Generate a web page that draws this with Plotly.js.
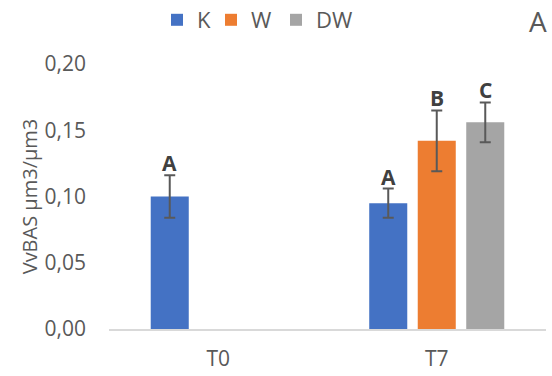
<!DOCTYPE html>
<html>
<head>
<meta charset="utf-8">
<script src="https://cdn.plot.ly/plotly-3.0.1.min.js"></script>
<style>
  html, body { margin: 0; padding: 0; background: #ffffff; }
  #chart { width: 552px; height: 376px; }
</style>
</head>
<body>
<div id="chart"></div>
<script>
// Time points and treatment groups
const timePoints = ["T0", "T7"];
const groups = ["K", "W", "DW"];

// Mean VvBAS per group and time point (null = not measured)
const valuesK  = [0.100, 0.095];
const valuesW  = [null, 0.142];
const valuesDW = [null, 0.156];

// Error bar half-lengths
const errorK  = [0.016, 0.011];
const errorW  = [null, 0.023];
const errorDW = [null, 0.015];

// Significance letters shown above each bar
const lettersK  = ["A", "A"];
const lettersW  = ["", "B"];
const lettersDW = ["", "C"];

const colors = ["#4472c4", "#ed7d31", "#a5a5a5"];
const textColor = "#595959";
const font = "Open Sans, Segoe UI, sans-serif";

const seriesValues = [valuesK, valuesW, valuesDW];
const seriesErrors = [errorK, errorW, errorDW];
const seriesLetters = [lettersK, lettersW, lettersDW];

const width = 552, height = 376;
const margin = { l: 109, r: 6, t: 64, b: 47 };
const bargap = 0.334;
const plotW = width - margin.l - margin.r;
const plotH = height - margin.t - margin.b;
const slotPx = plotW / timePoints.length * (1 - bargap) / groups.length;

// One legend per series so each entry can be placed on its own
const legendIds = ["legend", "legend2", "legend3"];
const legendLeftPx = [157, 211, 276];

const traces = groups.map((name, i) => ({
  type: "bar",
  name: name,
  legend: legendIds[i],
  x: timePoints,
  y: seriesValues[i],
  marker: { color: colors[i] },
  error_y: {
    type: "data",
    array: seriesErrors[i].map(e => e === null ? 0 : e),
    visible: true,
    color: textColor,
    thickness: 2,
    width: 5.5
  },
  hoverinfo: "skip"
}));

// Letter labels sit just above the top of each error bar
const annotations = [];
groups.forEach((g, i) => {
  timePoints.forEach((t, j) => {
    const v = seriesValues[i][j];
    const letter = seriesLetters[i][j];
    if (v === null || !letter) return;
    annotations.push({
      x: t, xref: "x",
      y: v + seriesErrors[i][j], yref: "y",
      xshift: (i - 1) * slotPx,
      yshift: -4,
      yanchor: "bottom",
      text: "<b>" + letter + "</b>",
      showarrow: false,
      font: { family: font, size: 21, color: "#404040" }
    });
  });
});

// Panel label in the top right corner
annotations.push({
  x: (548 - margin.l) / plotW, xref: "paper", xanchor: "right",
  y: 1 + (margin.t - 1) / plotH, yref: "paper", yanchor: "top",
  text: "A", showarrow: false, borderpad: 0,
  font: { family: font, size: 28, color: textColor }
});

const layout = {
  width: width, height: height,
  margin: margin,
  paper_bgcolor: "#ffffff",
  plot_bgcolor: "#ffffff",
  separators: ",.",
  barmode: "group",
  bargap: bargap,
  bargroupgap: 0.216,
  showlegend: true,
  xaxis: {
    type: "category",
    showline: true, linecolor: "#d9d9d9", linewidth: 1.5,
    ticks: "", showgrid: false, zeroline: false,
    ticklabelstandoff: 10,
    tickfont: { family: font, size: 21, color: textColor }
  },
  yaxis: {
    range: [0, 0.2],
    dtick: 0.05, tick0: 0,
    tickformat: ".2f",
    showgrid: false, zeroline: false, showline: false,
    ticks: "",
    ticklabelstandoff: 22,
    tickfont: { family: font, size: 21, color: textColor },
    title: { text: "VvBAS µm3/µm3", standoff: 1,
             font: { family: font, size: 20, color: textColor } }
  },
  annotations: annotations
};

legendIds.forEach((id, i) => {
  layout[id] = {
    orientation: "h",
    xref: "container", x: legendLeftPx[i] / width, xanchor: "left",
    yref: "container", y: 1 - 20 / height, yanchor: "middle",
    borderwidth: 0,
    bgcolor: "rgba(0,0,0,0)",
    font: { family: font, size: 22, color: textColor },
    itemclick: false
  };
});

Plotly.newPlot("chart", traces, layout, { displayModeBar: false, staticPlot: true });
</script>
</body>
</html>
